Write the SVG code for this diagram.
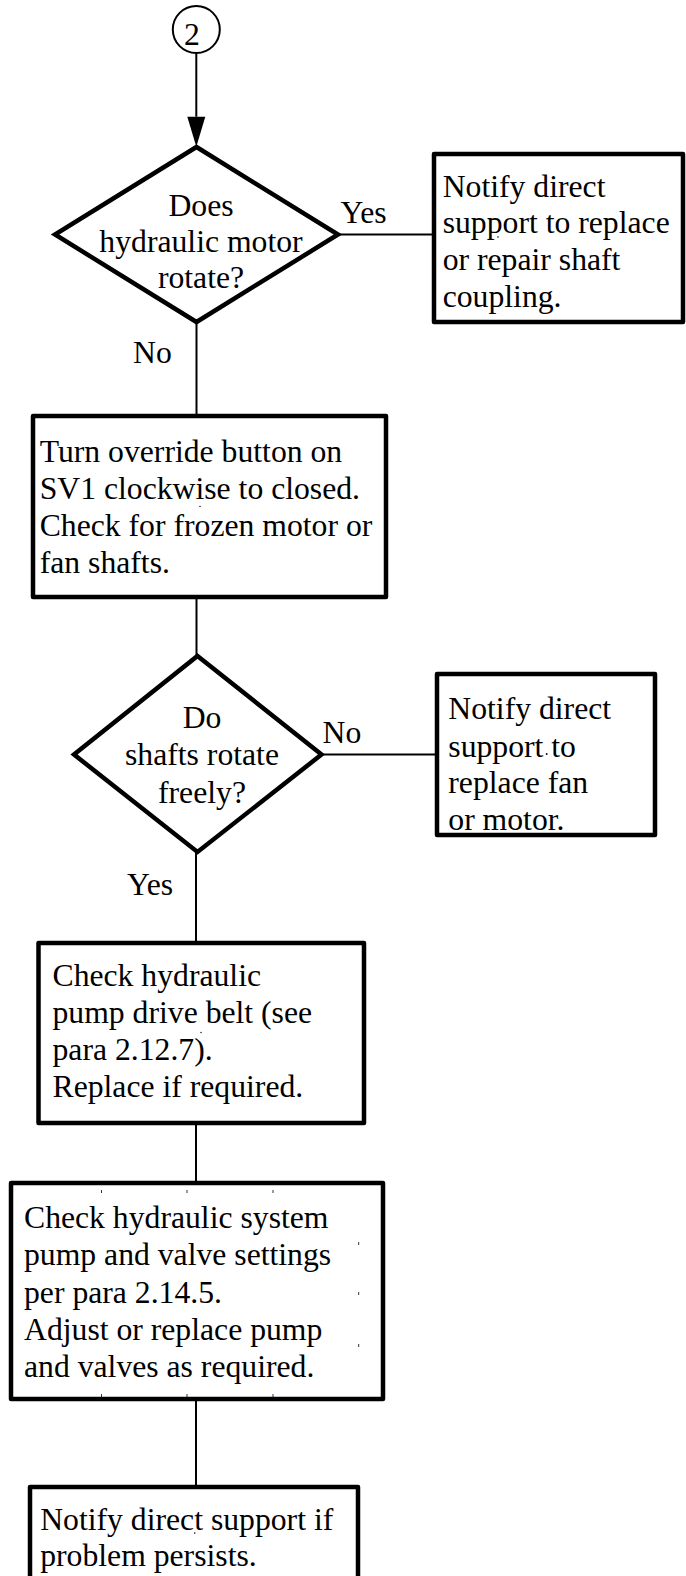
<svg xmlns="http://www.w3.org/2000/svg" width="686" height="1576" viewBox="0 0 686 1576">
  <style>
    .box { fill: #fff; stroke: #000; stroke-width: 4.5; stroke-linejoin: round; }
    .dia { fill: #fff; stroke: #000; stroke-width: 4.5; stroke-linejoin: miter; }
    .conn { fill: none; stroke: #000; stroke-width: 2; }
    .tick { fill: none; stroke: #000; stroke-width: 0.8; }
    .dot { fill: #000; }
    text { font-family: "Liberation Serif", "Times New Roman", serif; font-size: 31.7px; fill: #000; }
    .c { text-anchor: middle; }
  </style>

  <rect width="686" height="1576" fill="#fff"/>

  <!-- connectors -->
  <g id="connectors">
    <line class="conn" x1="196.3" y1="53" x2="196.3" y2="116.7"/>
    <path d="M187.3,116.7 L205.3,116.7 L196.3,146.7 Z" fill="#000"/>
    <line class="conn" x1="338" y1="234.5" x2="434" y2="234.5"/>
    <line class="conn" x1="196.5" y1="322" x2="196.5" y2="416"/>
    <line class="conn" x1="196.5" y1="597" x2="196.5" y2="656"/>
    <line class="conn" x1="321.5" y1="754.5" x2="437" y2="754.5"/>
    <line class="conn" x1="196" y1="852" x2="196" y2="943"/>
    <line class="conn" x1="196" y1="1123" x2="196" y2="1183"/>
    <line class="conn" x1="196" y1="1399" x2="196" y2="1487"/>
    <text x="340.5" y="222.7">Yes</text>
    <text x="133" y="362.7">No</text>
    <text x="322.5" y="743">No</text>
    <text x="127" y="895">Yes</text>
  </g>

  <!-- off-page connector -->
  <g id="connector-2">
    <circle cx="196.3" cy="29.5" r="23.5" fill="#fff" stroke="#000" stroke-width="2"/>
    <text x="192" y="45" class="c">2</text>
  </g>

  <!-- decision: motor rotates -->
  <g id="decision-motor">
    <path class="dia" d="M196.5,147 L338,234.5 L196.5,322 L55,234.5 Z"/>
    <text x="201" y="216" class="c">Does</text>
    <text x="201" y="251.7" class="c">hydraulic motor</text>
    <text x="201" y="288" class="c">rotate?</text>
  </g>

  <!-- action: shaft coupling -->
  <g id="notify-coupling">
    <rect class="box" x="434" y="154" width="249" height="168"/>
    <text x="442.7" y="196.7">Notify direct</text>
    <text x="442.7" y="233.3">support to replace</text>
    <text x="442.7" y="270">or repair shaft</text>
    <text x="442.7" y="306.7">coupling.</text>
    <circle class="dot" cx="498" cy="237" r="0.8"/>
  </g>

  <!-- action: override button -->
  <g id="override-button">
    <rect class="box" x="33" y="416" width="353" height="181"/>
    <text x="39.7" y="462">Turn override button on</text>
    <text x="39.7" y="499.3">SV1 clockwise to closed.</text>
    <text x="39.7" y="536">Check for frozen motor or</text>
    <text x="39.7" y="573.3">fan shafts.</text>
    <circle class="dot" cx="200" cy="506.5" r="0.7"/>
  </g>

  <!-- decision: shafts rotate -->
  <g id="decision-shafts">
    <path class="dia" d="M197.5,656 L321.5,754.5 L197.5,852 L74,754.5 Z"/>
    <text x="202" y="728" class="c">Do</text>
    <text x="202" y="765" class="c">shafts rotate</text>
    <text x="202" y="802.7" class="c">freely?</text>
  </g>

  <!-- action: fan or motor -->
  <g id="notify-fan-motor">
    <rect class="box" x="437" y="674" width="218" height="161"/>
    <text x="448.3" y="719.3">Notify direct</text>
    <text x="448.3" y="756.7">support to</text>
    <text x="448.3" y="792.7">replace fan</text>
    <text x="448.3" y="830">or motor.</text>
    <circle class="dot" cx="546.7" cy="754" r="0.9"/>
  </g>

  <!-- action: drive belt -->
  <g id="check-belt">
    <rect class="box" x="38.5" y="943" width="325.5" height="180"/>
    <text x="52.5" y="986">Check hydraulic</text>
    <text x="52.5" y="1023.3">pump drive belt (see</text>
    <text x="52.5" y="1060">para 2.12.7).</text>
    <text x="52.5" y="1097.3">Replace if required.</text>
    <circle class="dot" cx="201" cy="1032.5" r="0.7"/>
  </g>

  <!-- action: pump and valve settings -->
  <g id="check-valves">
    <rect class="box" x="11" y="1183" width="372" height="216"/>
    <g class="tick">
      <line x1="101.5" y1="1190" x2="101.5" y2="1193"/>
      <line x1="187" y1="1190" x2="187" y2="1193"/>
      <line x1="273" y1="1190" x2="273" y2="1193"/>
      <line x1="101.5" y1="1394" x2="101.5" y2="1397"/>
      <line x1="187" y1="1394" x2="187" y2="1397"/>
      <line x1="273" y1="1394" x2="273" y2="1397"/>
      <line x1="358.7" y1="1242" x2="358.7" y2="1245"/>
      <line x1="358.7" y1="1292" x2="358.7" y2="1295"/>
      <line x1="358.7" y1="1344" x2="358.7" y2="1347"/>
    </g>
    <text x="24" y="1228.3">Check hydraulic system</text>
    <text x="24" y="1265">pump and valve settings</text>
    <text x="24" y="1303.3">per para 2.14.5.</text>
    <text x="24" y="1340">Adjust or replace pump</text>
    <text x="24" y="1376.7">and valves as required.</text>
  </g>

  <!-- action: problem persists -->
  <g id="notify-persists">
    <rect class="box" x="30" y="1487" width="328" height="110"/>
    <text x="40.2" y="1530">Notify direct support if</text>
    <text x="40.2" y="1566">problem persists.</text>
    <circle class="dot" cx="194.7" cy="1533" r="0.8"/>
  </g>
</svg>
